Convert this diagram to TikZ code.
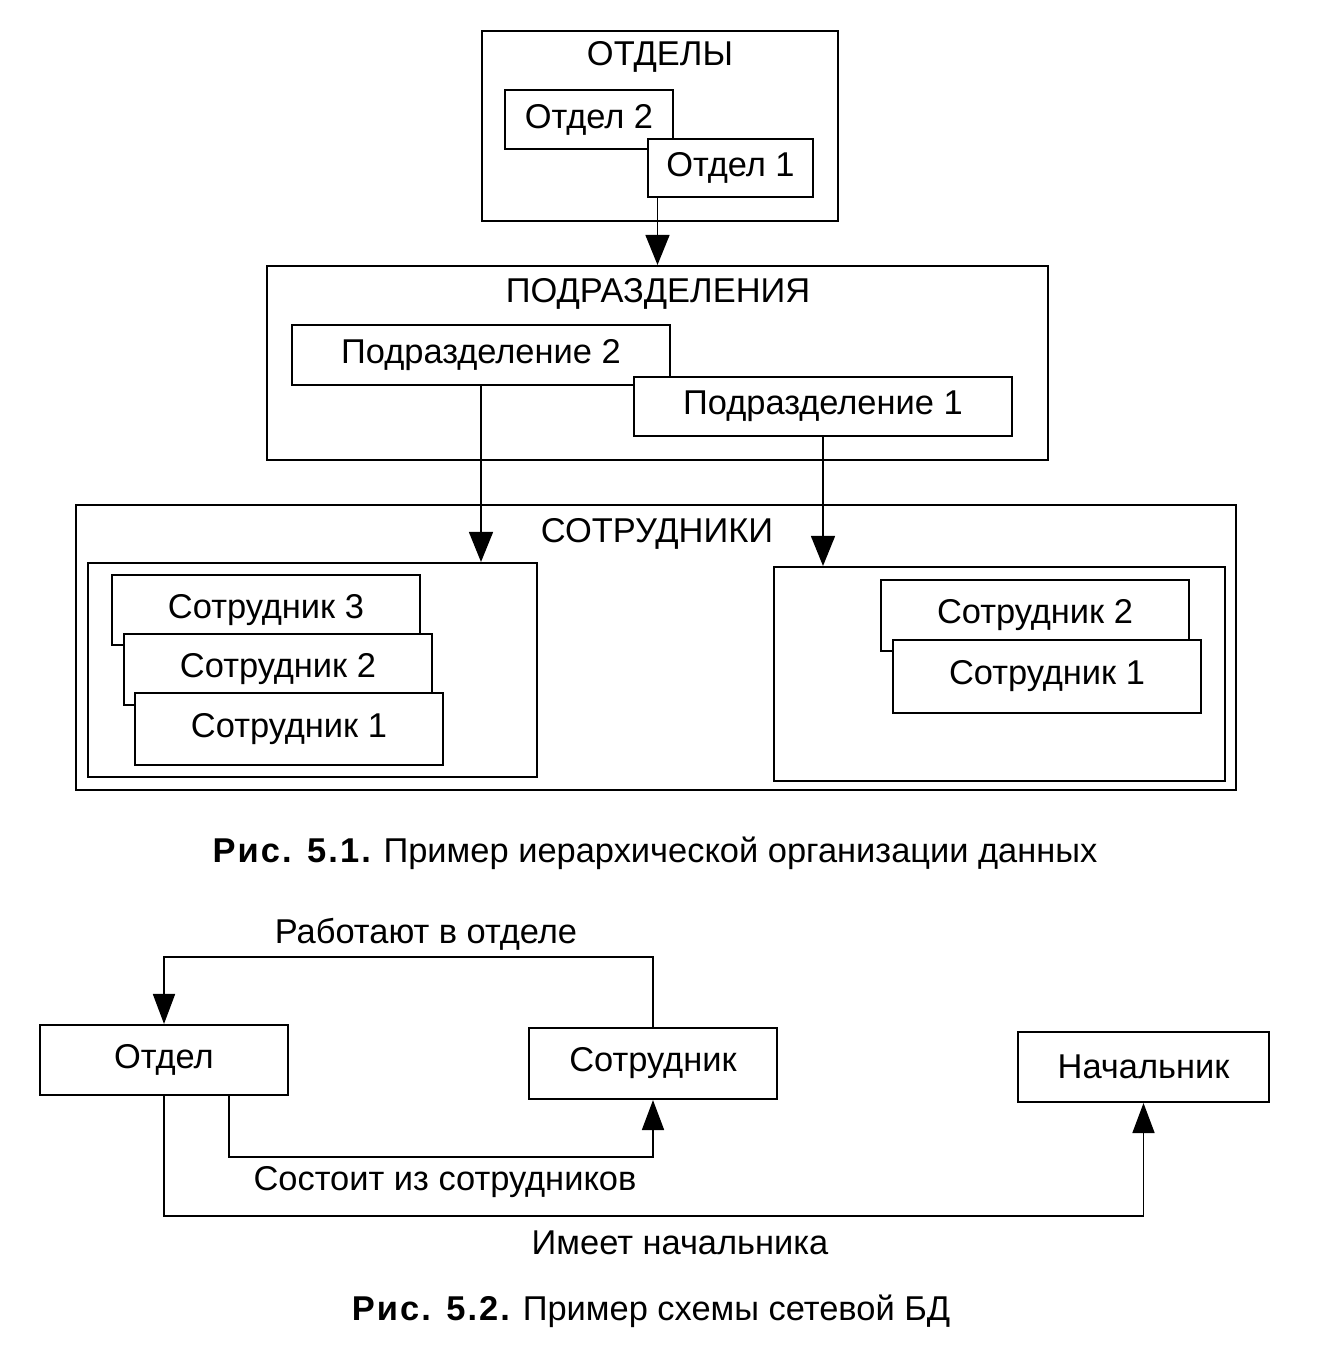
\documentclass[tikz,border=0pt]{standalone}
\usepackage{fontspec}
\setmainfont{Liberation Sans}
\usetikzlibrary{arrows.meta}
\begin{document}
\begin{tikzpicture}[x=0.02cm, y=-0.02cm]
                \tikzstyle{every node}=[font=\fontsize{19.6}{23}\selectfont, text=black]
                \tikzstyle{box}=[draw=black, fill=white, line width=1.2pt, inner sep=0pt]
                \tikzstyle{arr}=[black, line width=0.8pt, -{Triangle[width=0.48cm, length=0.6cm]}]
                \tikzstyle{link}=[black, line width=1pt, -{Triangle[width=0.44cm, length=0.6cm]}]

                \useasboundingbox (0,0) rectangle (1319,1356);

                % fig. 5.1
                \node[box, minimum width=7.12cm, minimum height=3.8cm] (otdely) at (660,126) {};
                \node (otdelyT) at (660,57) {ОТДЕЛЫ};
                \node[box, minimum width=3.36cm, minimum height=1.18cm] (otdel2) at (589,119.5) {Отдел 2};
                \node[box, minimum width=3.3cm, minimum height=1.16cm] (otdel1) at (730.5,168) {Отдел 1};

                \node[box, minimum width=15.62cm, minimum height=3.88cm] (podr) at (657.5,363) {};
                \node (podrT) at (658,294) {ПОДРАЗДЕЛЕНИЯ};
                \node[box, minimum width=7.56cm, minimum height=1.2cm] (podr2) at (481,355) {Подразделение 2};
                \node[box, minimum width=7.56cm, minimum height=1.18cm] (podr1) at (823,406.5) {Подразделение 1};

                \node[box, minimum width=23.2cm, minimum height=5.7cm] (sotr) at (656,647.5) {};
                \node (sotrT) at (657,534) {СОТРУДНИКИ};
                \node[box, minimum width=8.98cm, minimum height=4.28cm] (grpL) at (312.5,670) {};
                \node[box, minimum width=9.02cm, minimum height=4.28cm] (grpR) at (999.5,674) {};
                \node[box, minimum width=6.16cm, minimum height=1.4cm] (s3L) at (266,610) {Сотрудник 3};
                \node[box, minimum width=6.16cm, minimum height=1.42cm] (s2L) at (278,669.5) {Сотрудник 2};
                \node[box, minimum width=6.16cm, minimum height=1.44cm] (s1L) at (289,729) {Сотрудник 1};
                \node[box, minimum width=6.16cm, minimum height=1.42cm] (s2R) at (1035,615.5) {Сотрудник 2};
                \node[box, minimum width=6.16cm, minimum height=1.46cm] (s1R) at (1047,676.5) {Сотрудник 1};

                \draw[arr] (otdel1.south -| podr.north) -- (podr.north);
                \draw[arr] (podr2.south) -- (podr2.south |- grpL.north);
                \draw[arr] (podr1.south) -- (podr1.south |- grpR.north);

                \node (cap1) at (655,853) {{\bfseries\addfontfeature{LetterSpace=6}Рис. 5.1.} Пример иерархической организации данных};

                % fig. 5.2
                \node[box, minimum width=4.96cm, minimum height=1.4cm] (dep) at (164,1060) {Отдел};
                \node[box, minimum width=4.96cm, minimum height=1.42cm] (emp) at (653,1063.5) {Сотрудник};
                \node[box, minimum width=5.02cm, minimum height=1.4cm] (boss) at (1143.5,1067) {Начальник};

                \draw[link] (emp.north) -- ++(0,-70) -| (dep.north);
                \draw[link] ([xshift=1.3cm]dep.south) -- ++(0,61) -| (emp.south);
                \draw[link] (dep.south) -- ++(0,120) -| (boss.south);

                \node (works) at (426,934) {Работают в отделе};
                \node (consists) at (445,1182) {Состоит из сотрудников};
                \node (has) at (680,1243) {Имеет начальника};

                \node (cap2) at (651,1311) {{\bfseries\addfontfeature{LetterSpace=6}Рис. 5.2.} Пример схемы сетевой БД};
            \end{tikzpicture}
\end{document}
